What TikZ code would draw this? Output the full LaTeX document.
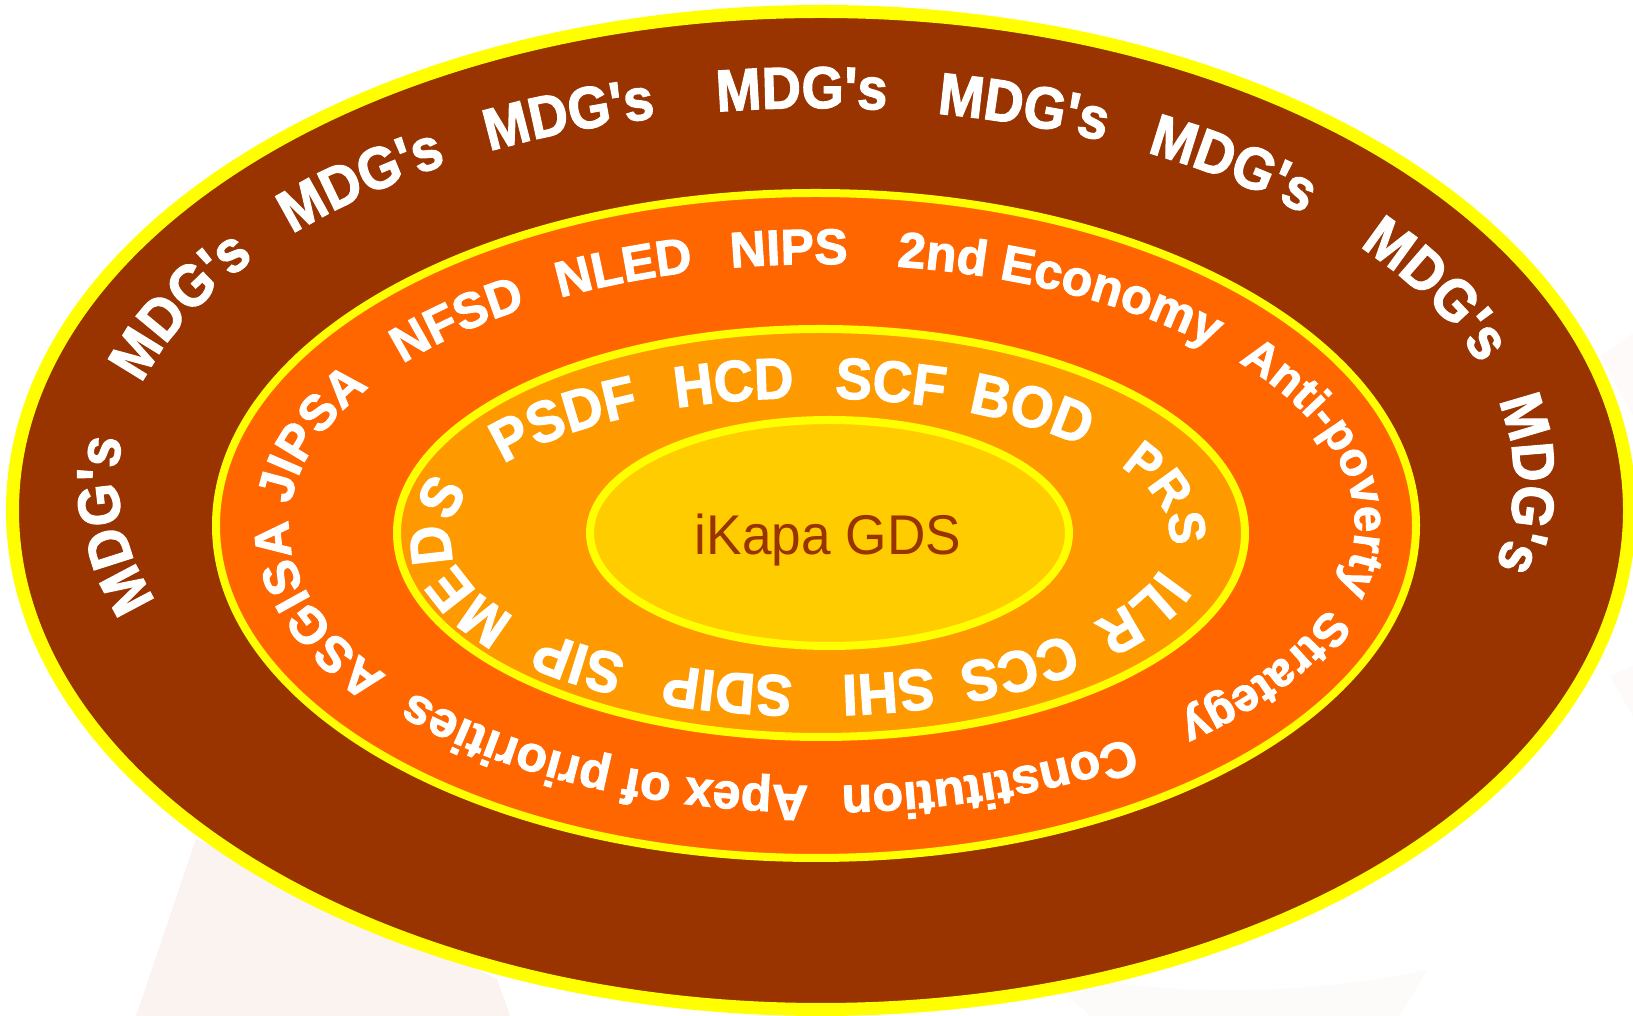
\documentclass[tikz,border=0pt]{standalone}
\usepackage{fontspec}
\usetikzlibrary{decorations.text}
\setmainfont{Liberation Sans}
\newfontfamily\ftA{Liberation Sans}[FakeStretch=0.92,FakeBold=2]
\newfontfamily\ftB{Liberation Sans}[FakeStretch=1.0,FakeBold=2]
\newfontfamily\ftC{Liberation Sans}[FakeStretch=0.94,FakeBold=2]
\newfontfamily\ftD{Liberation Sans}[FakeStretch=0.95]
\definecolor{ringbrown}{HTML}{993300}
\definecolor{ringorange}{HTML}{FF6600}
\definecolor{ringamber}{HTML}{FF9900}
\definecolor{ringgold}{HTML}{FFCC00}
\definecolor{ringline}{HTML}{FFFF00}
\definecolor{ghost}{HTML}{F9F0EC}
\def\fA{\ftA\bfseries\fontsize{59}{59}\selectfont\color{white}}
\def\fB{\ftB\bfseries\fontsize{50}{50}\selectfont\color{white}}
\def\fBs{\ftB\bfseries\fontsize{47}{47}\selectfont\color{white}}
\def\fC{\ftC\bfseries\fontsize{58}{58}\selectfont\color{white}}
\def\fCs{\ftC\bfseries\fontsize{51}{51}\selectfont\color{white}}
\newcommand{\setring}[4]{\def\ecx{#1}\def\ecy{#2}\def\erx{#3}\def\ery{#4}}
\newcommand{\rw}[4]{%
  \pgfmathsetmacro\sa{#1+#2}\pgfmathsetmacro\ea{#1-#2}%
  \path[decorate,decoration={text along path,text align=center,text={|#3|#4}}]
    ({\ecx+\erx*cos(\sa)},{\ecy+\ery*sin(\sa)})
    arc[start angle=\sa,end angle=\ea,x radius=\erx,y radius=\ery];}
\begin{document}
\begin{tikzpicture}[x=1pt,y=1pt]
\useasboundingbox (0,0) rectangle (1633,1016);
% faint watermark behind the rings
\fill[ghost!80] (196,177) -- (136,0) -- (510,0) -- (497,37) -- cycle;
\fill[ghost!25] (1040,46) .. controls (1200,10) and (1350,30) .. (1427,46) -- (1400,0) -- (1090,0) -- cycle;
\fill[ghost!30] (1633,683) -- (1600,660) -- (1633,600) -- cycle;
\fill[ghost!30] (1633,350) -- (1610,340) -- (1633,300) -- cycle;
% rings
\draw[line width=13pt,draw=ringline,fill=ringbrown] (821,505.5) ellipse [x radius=808.5,y radius=499];
\draw[line width=8pt,draw=ringline,fill=ringorange] (816,490.5) ellipse [x radius=600,y radius=332.5];
\draw[line width=8pt,draw=ringline,fill=ringamber] (821,483) ellipse [x radius=424,y radius=204];
\draw[line width=8pt,draw=ringline,fill=ringgold] (829.5,483) ellipse [x radius=239.5,y radius=113];
\node[text=ringbrown,font=\ftD\fontsize{56}{56}\selectfont,inner sep=0pt] (core) at (828,476) {iKapa GDS};
% outer ring words
\setring{816}{536}{698}{372}
\rw{186}{18}{\fA}{MDG's}
\rw{155.4}{18}{\fA}{MDG's}
\rw{131.4}{18}{\fA}{MDG's}
\rw{111.2}{18}{\fA}{MDG's}
\rw{91.2}{18}{\fA}{MDG's}
\rw{72.3}{18}{\fA}{MDG's}
\rw{52.6}{18}{\fA}{MDG's}
\rw{27.3}{18}{\fA}{MDG's}
\rw{-0.5}{18}{\fA}{MDG's}
% second ring words
\setring{822}{491}{533}{261}
\rw{196}{24}{\fB}{ASGISA}
\rw{163.7}{24}{\fB}{JIPSA}
\rw{134}{18}{\fB}{NFSD}
\rw{112.2}{16}{\fB}{NLED}
\rw{93.6}{14}{\fB}{NIPS}
\rw{60.7}{30}{\fB}{2nd Economy}
\rw{10}{42}{\fBs}{Anti-poverty}
\rw{-30}{28}{\fBs}{Strategy}
\rw{-70.6}{24}{\fB}{Constitution}
\rw{242.4}{34}{\fB}{Apex of priorities}
% third ring words
\setring{810}{479}{360}{139}
\rw{186.5}{40}{\fC}{MEDS}
\rw{137.5}{30}{\fC}{PSDF}
\rw{102.8}{22}{\fC}{HCD}
\rw{76.6}{20}{\fC}{SCF}
\rw{49.3}{26}{\fC}{BOD}
\rw{10}{34}{\fCs}{PRS}
\rw{-21.7}{26}{\fC}{ILR}
\rw{-53}{22}{\fC}{CCS}
\rw{-77}{20}{\fC}{SHI}
\rw{256}{24}{\fC}{SDIP}
\rw{228.4}{22}{\fC}{SIP}
\end{tikzpicture}
\end{document}
